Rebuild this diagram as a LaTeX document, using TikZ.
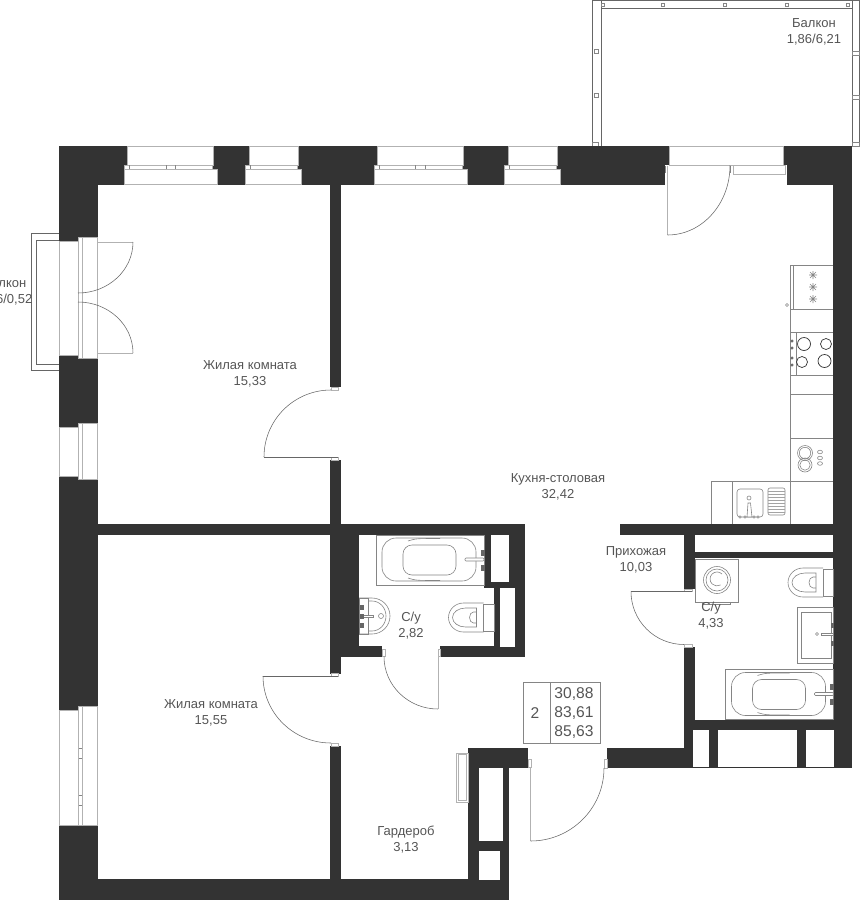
\documentclass[tikz,border=0pt]{standalone}
\usepackage{fontspec}
\setmainfont{Liberation Sans}
\definecolor{wallgrey}{HTML}{333333}
\definecolor{linegrey}{HTML}{666666}
\definecolor{labelgrey}{HTML}{555555}
\tikzset{
  wall/.style={fill=wallgrey},
  gap/.style={fill=white,draw=linegrey!50,line width=.6pt},
  thin line/.style={draw=linegrey,line width=.55pt},
  fixture/.style={draw=linegrey!80,line width=.6pt},
  knob/.style={fill=linegrey,draw=linegrey,line width=.3pt},
  room/.style={text=labelgrey,font=\fontsize{13}{16}\selectfont,align=center},
  bignum/.style={text=labelgrey,font=\fontsize{15.6}{18}\selectfont},
}
% bath, origin in the top left corner of its box
\newcommand{\bathtub}[2]{
  \begin{scope}[shift={(#1,#2)}]
    \draw[fixture,fill=white] (0,0) rectangle (108,50);
    \draw[fixture,rounded corners=14pt] (6,3) rectangle (100,46);
    \draw[fixture,rounded corners=9pt] (27,10) rectangle (80,40);
    \draw[fixture] (32,6) .. controls (40,3.5) .. (64,3.5);
    \draw[fixture] (32,43) .. controls (40,45.5) .. (64,45.5);
    \draw[fixture,fill=white,rounded corners=1pt] (89,23) rectangle (108,26);
    \fill[knob] (105,15) rectangle (108,20);
    \fill[knob] (105,30) rectangle (108,35);
  \end{scope}
}
% toilet, origin in the top left corner of the tank
\newcommand{\toilet}[2]{
  \begin{scope}[shift={(#1,#2)}]
    \draw[fixture] (0,0) rectangle (10.5,27);
    \draw[fixture] (0,-1) -- (-20,-1) arc[start angle=270,end angle=90,x radius=15,y radius=14.5] -- (0,28);
    \draw[fixture] (-7,4) -- (-18,4) arc[start angle=270,end angle=90,x radius=13,y radius=9.5] -- (-7,23) -- cycle;
    \draw[fixture] (-7,8) -- (-10,8) arc[start angle=270,end angle=90,x radius=4,y radius=5.5] -- (-7,19);
  \end{scope}
}
\begin{document}
\begin{tikzpicture}[x=1pt,y=1pt,yscale=-1]
  \useasboundingbox (0,0) rectangle (866,900);

  % balconies
  \draw[thin line] (592.5,0.5) rectangle (859,146);
  \draw[thin line] (601.5,8.5) -- (852,8.5);
  \draw[thin line] (601.5,0.5) -- (601.5,146) (852,0.5) -- (852,146);
  \foreach \px in {603,663,725,787,848} {
    \draw[fixture] (\px-1.5,3) rectangle (\px+1.5,6.5);
  }
  \foreach \py in {51,95} {
    \draw[fixture] (594.5,\py-2) rectangle (598.5,\py+2);
    \draw[fixture] (852,\py) rectangle (859,\py+4);
  }
  \draw[fixture] (592.5,142) rectangle (598.5,146);
  \draw[fixture] (852,142) rectangle (859,146);
  \draw[thin line] (59,233) -- (31,233) -- (31,370) -- (59,370);
  \draw[thin line] (59,240) -- (36,240) -- (36,364) -- (59,364);

  % walls
  \fill[wall] (59,146) rectangle (852,184.5);
  \fill[wall] (59,146) rectangle (97.5,899.5);
  \fill[wall] (59,879) rectangle (509,899.5);
  \fill[wall] (833,146) rectangle (852,768);
  \fill[wall] (97,523.5) rectangle (525,535);
  \fill[wall] (330,184) rectangle (341,387);
  \fill[wall] (330,460) rectangle (341,524);
  \fill[wall] (330,535) rectangle (359,656.5);
  \fill[wall] (330,656) rectangle (341,674);
  \fill[wall] (330,746) rectangle (341,880);
  \fill[wall] (341,646) rectangle (382,656.5);
  \fill[wall] (440,646) rectangle (525,656.5);
  \fill[wall] (484,524) rectangle (525,588);
  \fill[wall] (494,588) rectangle (525,656);
  \fill[wall] (468,748) rectangle (528,767.5);
  \fill[wall] (468,767) rectangle (509,899.5);
  \fill[wall] (607,748) rectangle (684,768);
  \fill[wall] (684,647) rectangle (695,768);
  \fill[wall] (684,720) rectangle (852,768);
  \fill[wall] (620,524) rectangle (852,535);
  \fill[wall] (684,535) rectangle (695,589);
  \fill[wall] (695,552) rectangle (833,558);

  % shafts
  \fill[white] (491,535) rectangle (509,582);
  \fill[white] (500,588) rectangle (515,647);
  \fill[white] (479,768) rectangle (503,841);
  \fill[white] (479,851) rectangle (500,880);
  \fill[white] (695,535) rectangle (833,552);
  \fill[white] (693,730) rectangle (709,767);
  \fill[white] (718,730) rectangle (797,767);
  \fill[white] (806,730) rectangle (834,767);
  \draw[gap] (456.5,753) rectangle (468,802);
  \draw[gap] (458,754.5) rectangle (466,800.5);

  % windows of the top wall
  \foreach \xa/\xb/\xc/\xd in {127/213.5/124/217.5,249/298/245/301.5,377/463.5/374/467,508/557/504/560.5} {
    \draw[gap] (\xa,146.5) rectangle (\xb,165);
    \draw[gap] (\xc,169) rectangle (\xd,184.5);
    \draw[gap] (\xc,165) rectangle (\xb-1,169);
    \draw[fixture] (\xc+5,165) -- (\xc+5,169);
  }
  \foreach \tx in {166,175,415,425} {
    \draw[fixture] (\tx,165) -- (\tx,169);
  }

  % windows of the left wall
  \foreach \ya/\yb/\yc/\yd in {241/355/237/358,427/476/423/479,710/825/706/825} {
    \draw[gap] (59,\ya) rectangle (78.5,\yb);
    \draw[gap] (82,\yc) rectangle (97.5,\yd);
    \draw[gap] (78.5,\yc) rectangle (82,\yd);
  }
  \foreach \ty in {748,758,795,805} {
    \draw[fixture] (78.5,\ty) -- (82,\ty);
  }

  % balcony door of the kitchen
  \fill[white] (669,146.5) rectangle (783,166);
  \fill[white] (665,165) rectangle (787,185);
  \draw[gap] (669,146.5) rectangle (783,165.5);
  \draw[gap] (733,165.5) rectangle (785,174);
  \draw[fixture] (665.5,165.5) -- (665.5,173) (730,165.5) -- (730,173);
  \draw[gap] (667.5,165.5) -- (667.5,235);
  \draw[thin line] (667.5,235) arc[start angle=90,end angle=0,x radius=62.5,y radius=69.5];

  % doors to the small balcony
  \draw[gap] (133,242) -- (97,242) (133,353) -- (97,353);
  \draw[thin line] (133,242) arc[start angle=0,end angle=90,x radius=55,y radius=51];
  \draw[thin line] (133,353) arc[start angle=0,end angle=-90,x radius=55,y radius=51];

  % door of the upper room
  \draw[gap] (331,387) rectangle (338,390);
  \draw[gap] (331,457) rectangle (338,460);
  \draw[thin line] (338,457) -- (264,457);
  \draw[thin line] (264,457) arc[start angle=180,end angle=270,x radius=67,y radius=67];
  % door of the lower room
  \draw[gap] (331,673.5) rectangle (338,676);
  \draw[gap] (331,743) rectangle (338,746);
  \draw[thin line] (338,676) -- (263,676);
  \draw[thin line] (263,676) arc[start angle=180,end angle=90,x radius=68,y radius=67];
  % door of the first bathroom
  \draw[gap] (382,649) rectangle (385,656.5);
  \draw[gap] (438,649) rectangle (440.5,656.5);
  \draw[gap] (438,656.5) -- (438,709);
  \draw[thin line] (438,709) arc[start angle=90,end angle=180,x radius=54,y radius=52.5];
  % door of the second bathroom
  \draw[gap] (684,589) rectangle (692,591.5);
  \draw[gap] (684,644.5) rectangle (692,647);
  \draw[thin line] (692,591.5) -- (631,591.5);
  \draw[thin line] (631,591.5) arc[start angle=180,end angle=90,x radius=53,y radius=53];
  % entrance door
  \draw[gap] (528,759) rectangle (531,767.5);
  \draw[gap] (604,759) rectangle (607,768);
  \draw[gap] (530.5,767.5) -- (530.5,841);
  \draw[thin line] (530.5,841) arc[start angle=90,end angle=0,x radius=73.5,y radius=73];

  % first bathroom
  \bathtub{376}{535}
  \toilet{483.5}{604}
  \draw[fixture] (359,598) rectangle (368,634);
  \draw[fixture] (359,598) -- (372,598) arc[start angle=270,end angle=450,x radius=18,y radius=18] -- (359,634);
  \draw[fixture] (368,601) -- (372,601) arc[start angle=270,end angle=450,x radius=14,y radius=15] -- (368,631);
  \draw[fixture] (381,616) circle[radius=2.5];
  \draw[fixture,fill=white] (359,615) rectangle (373,617);
  \fill[knob] (360,605) rectangle (363,609);
  \fill[knob] (360,623) rectangle (363,627);
  \fill[knob] (360,614) rectangle (363,618);

  % second bathroom
  \bathtub{725.5}{669.5}
  \toilet{823}{569}
  \draw[fixture] (695,559) rectangle (738,602);
  \draw[fixture] (717,580) circle[radius=13.5];
  \draw[fixture] (717,580) circle[radius=11];
  \draw[fixture] (722,574) arc[start angle=-45,end angle=-300,radius=7];
  \draw[fixture] (702,602) -- (702,604.5) -- (730,604.5) -- (730,602);
  \draw[fixture] (797,607) rectangle (833,663);
  \draw[fixture] (801,612) rectangle (831,658);
  \draw[fixture] (817,634) circle[radius=1.5];
  \draw[fixture,fill=white] (821,633) rectangle (833,635);
  \fill[knob] (831,623) rectangle (833,627);
  \fill[knob] (831,641) rectangle (833,645);

  % kitchen units
  \draw[fixture] (833,265) -- (790,265) -- (790,524);
  \foreach \uy in {309,332,375,394,438,481} {
    \draw[fixture] (790,\uy) -- (833,\uy);
  }
  \draw[fixture] (793,265) -- (793,309);
  \draw[fixture] (796,332) -- (796,375);
  \foreach \sy in {275,287,299} {
    \draw[fixture] (809,\sy) -- (817,\sy) (813,\sy-4) -- (813,\sy+4) (810,\sy-3) -- (816,\sy+3) (810,\sy+3) -- (816,\sy-3);
  }
  \draw[fixture] (787,305) circle[radius=1.5];
  \foreach \bx/\by/\br in {804/344/6.5,826/344/5.5,802/362/5.5,824.5/361/6.5} {
    \draw[wallgrey,line width=.7pt] (\bx,\by) circle[radius=\br];
  }
  \foreach \ky in {341,348,358,365} {
    \fill[knob] (792,\ky) circle[radius=1.3];
  }
  \foreach \dy/\dr in {453/7.5,465/7} {
    \draw[fixture] (805,\dy) circle[radius=\dr];
    \draw[fixture] (805,\dy) circle[radius=\dr-1.8];
  }
  \foreach \dy in {452,458,463.5} {
    \draw[fixture] (820,\dy) circle[x radius=2.5,y radius=1.8];
  }
  \draw[fixture] (790,481) -- (711,481) -- (711,524);
  \draw[fixture] (732,481) -- (732,524);
  \draw[fixture,rounded corners=3pt] (737,489) rectangle (763,517);
  \draw[fixture] (749,498) circle[radius=2];
  \draw[fixture,fill=white] (747,517) -- (748,503) -- (750.5,503) -- (752,517) -- cycle;
  \foreach \kx in {740,745,754,758} {
    \draw[fixture,fill=white] (\kx,517) circle[radius=1.2];
  }
  \draw[fixture,rounded corners=2pt] (768,488) rectangle (785,515);
  \foreach \ly in {491,494,497,500,503,506,509,512} {
    \draw[linegrey!60,line width=.4pt] (768,\ly) -- (785,\ly);
  }

  % flat data table
  \draw[draw=linegrey!80,line width=.7pt] (523,682) rectangle (600,743);
  \draw[draw=linegrey!80,line width=.7pt] (550,682) -- (550,743);
  \node[bignum] (tbnum) at (535,713) {2};
  \node[bignum] (tbliving) at (574,694) {30,88};
  \node[bignum] (tbtotal) at (574,713) {83,61};
  \node[bignum] (tbfull) at (574,732) {85,63};

  % room labels
  \node[room] (roomone) at (250,374) {Жилая комната\\15,33};
  \node[room] (roomtwo) at (211,713) {Жилая комната\\15,55};
  \node[room] (kitchen) at (558,487) {Кухня-столовая\\32,42};
  \node[room] (hall) at (636,560) {Прихожая\\10,03};
  \node[room] (bathone) at (411,626) {С/у\\2,82};
  \node[room] (bathtwo) at (711,616) {С/у\\4,33};
  \node[room] (wardrobe) at (406,840) {Гардероб\\3,13};
  \node[room] (balconytop) at (814,32) {Балкон\\1,86/6,21};
  \node[room,anchor=east,inner sep=0pt] (balconyword) at (26.5,284.5) {лкон};
  \node[room,anchor=east,inner sep=0pt] (balconyarea) at (32.5,300) {6/0,52};
\end{tikzpicture}
\end{document}
